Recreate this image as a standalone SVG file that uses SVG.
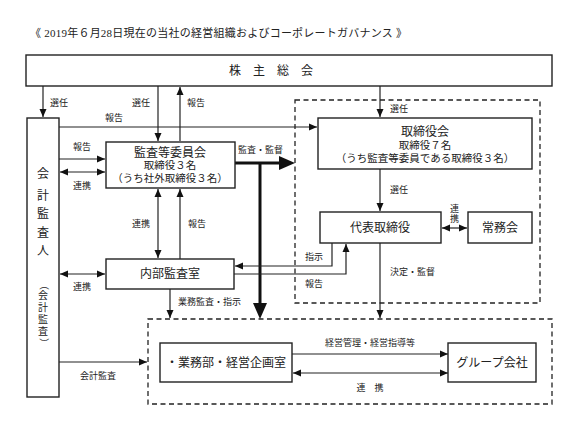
<svg xmlns="http://www.w3.org/2000/svg" width="565" height="431" viewBox="0 0 565 431">
<style>
.bx{fill:#fff;stroke:#222;stroke-width:1.4}
.ln{fill:none;stroke:#222;stroke-width:1.2}
.thk{fill:none;stroke:#111;stroke-width:3}
.ds{fill:none;stroke:#222;stroke-width:1.3;stroke-dasharray:5,3.5}
text{font-family:"Liberation Sans","Noto Sans CJK JP",sans-serif;fill:#222}
.t{font-size:12px;text-anchor:middle}
.s{font-size:10.5px;text-anchor:middle}
.l{font-size:9px}
.v{font-size:10px;text-anchor:middle}
.p{font-size:10px;text-anchor:middle;dominant-baseline:central}
.title{font-family:"Liberation Serif","Noto Sans CJK JP",serif;font-size:11px}
</style>
<defs>
<marker id="a" markerUnits="userSpaceOnUse" markerWidth="8" markerHeight="8" viewBox="0 0 8 8" refX="8" refY="4" orient="auto-start-reverse"><path d="M0,0.5L8,4L0,7.5z" fill="#111"/></marker>
</defs>
<rect width="565" height="431" fill="#fff"/>
<text class="title" x="30" y="37" textLength="377" lengthAdjust="spacing">《 2019年６月28日現在の当社の経営組織およびコーポレートガバナンス 》</text>

<g id="regions">
<rect class="ds" x="295" y="100" width="245" height="203"/>
<rect class="ds" x="148" y="319" width="404" height="85"/>
</g>

<g id="connectors">
<path class="ln" d="M43,86V117" marker-end="url(#a)"/>
<path class="ln" d="M158,86V141" marker-end="url(#a)"/>
<path class="ln" d="M180,141V87" marker-end="url(#a)"/>
<path class="ln" d="M59,127H317" marker-end="url(#a)"/>
<path class="ln" d="M380,86V117" marker-end="url(#a)"/>
<path class="ln" d="M59,159H105" marker-end="url(#a)"/>
<path class="ln" d="M60,172H105" marker-start="url(#a)" marker-end="url(#a)"/>
<path class="thk" d="M235,163H280"/>
<path d="M279,156L295,163L279,170z" fill="#111"/>
<path class="thk" d="M260,163V304"/>
<path d="M253,303L260,319L267,303z" fill="#111"/>
<path class="ln" d="M158,189V258" marker-start="url(#a)" marker-end="url(#a)"/>
<path class="ln" d="M180,259V189" marker-end="url(#a)"/>
<path class="ln" d="M380,169V211" marker-end="url(#a)"/>
<path class="ln" d="M442,228H467" marker-start="url(#a)" marker-end="url(#a)"/>
<path class="ln" d="M332,243V266H235" marker-end="url(#a)"/>
<path class="ln" d="M234,274H346V244" marker-end="url(#a)"/>
<path class="ln" d="M380,243V318" marker-end="url(#a)"/>
<path class="ln" d="M60,274H105" marker-start="url(#a)" marker-end="url(#a)"/>
<path class="ln" d="M170,289V318" marker-end="url(#a)"/>
<path class="ln" d="M59,362H147" marker-end="url(#a)"/>
<path class="ln" d="M292,354H448" marker-end="url(#a)"/>
<path class="ln" d="M293,373H448" marker-start="url(#a)" marker-end="url(#a)"/>
</g>

<g id="labels">
<text class="l" x="50" y="106">選任</text>
<text class="l" x="132" y="106">選任</text>
<text class="l" x="187" y="106">報告</text>
<text class="l" x="105" y="121">報告</text>
<text class="l" x="390" y="112">選任</text>
<text class="l" x="73" y="150">報告</text>
<text class="l" x="73" y="189">連携</text>
<text class="l" x="238" y="153">監査・監督</text>
<text class="l" x="390" y="193">選任</text>
<text class="l" x="132" y="227">連携</text>
<text class="l" x="188" y="227">報告</text>
<text class="l" x="450" y="212">連</text>
<text class="l" x="450" y="222">携</text>
<text class="l" x="305" y="260">指示</text>
<text class="l" x="305" y="287">報告</text>
<text class="l" x="390" y="275">決定・監督</text>
<text class="l" x="73" y="290">連携</text>
<text class="l" x="178" y="305">業務監査・指示</text>
<text class="l" x="80" y="379">会計監査</text>
<text class="l" x="370" y="346" text-anchor="middle">経営管理・経営指導等</text>
<text class="l" x="370" y="391" text-anchor="middle">連　携</text>
</g>

<g id="shareholders">
<rect class="bx" x="26" y="55" width="526" height="31"/>
<text class="t" x="271" y="75" font-size="13">株　主　総　会</text>
</g>

<g id="auditor">
<rect class="bx" x="27" y="118" width="32" height="279"/>
<text class="t" x="43" y="178">会</text>
<text class="t" x="43" y="200">計</text>
<text class="t" x="43" y="218">監</text>
<text class="t" x="43" y="237">査</text>
<text class="t" x="43" y="255">人</text>
<text class="p" transform="translate(43,285) rotate(90)">（</text>
<text class="v" x="43" y="299">会</text>
<text class="v" x="43" y="311">計</text>
<text class="v" x="43" y="323">監</text>
<text class="v" x="43" y="335">査</text>
<text class="p" transform="translate(43,343) rotate(90)">）</text>
</g>

<g id="audit_committee">
<rect class="bx" x="106" y="142" width="129" height="46"/>
<text class="t" x="170" y="157">監査等委員会</text>
<text class="s" x="170" y="169">取締役３名</text>
<text class="s" x="170" y="182">（うち社外取締役３名）</text>
</g>

<g id="board">
<rect class="bx" x="318" y="118" width="214" height="51"/>
<text class="t" x="425" y="136">取締役会</text>
<text class="s" x="425" y="149">取締役７名</text>
<text class="s" x="425" y="162">（うち監査等委員である取締役３名）</text>
</g>

<g id="representative">
<rect class="bx" x="320" y="212" width="121" height="31"/>
<text class="t" x="380" y="232">代表取締役</text>
</g>

<g id="executive_committee">
<rect class="bx" x="468" y="212" width="64" height="31"/>
<text class="t" x="500" y="232">常務会</text>
</g>

<g id="internal_audit">
<rect class="bx" x="106" y="259" width="128" height="30"/>
<text class="t" x="170" y="278">内部監査室</text>
</g>

<g id="business_dept">
<rect class="bx" x="160" y="343" width="132" height="39"/>
<text class="t" x="226" y="367">・業務部・経営企画室</text>
</g>

<g id="group_companies">
<rect class="bx" x="448" y="343" width="88" height="39"/>
<text class="t" x="492" y="367">グループ会社</text>
</g>
</svg>
